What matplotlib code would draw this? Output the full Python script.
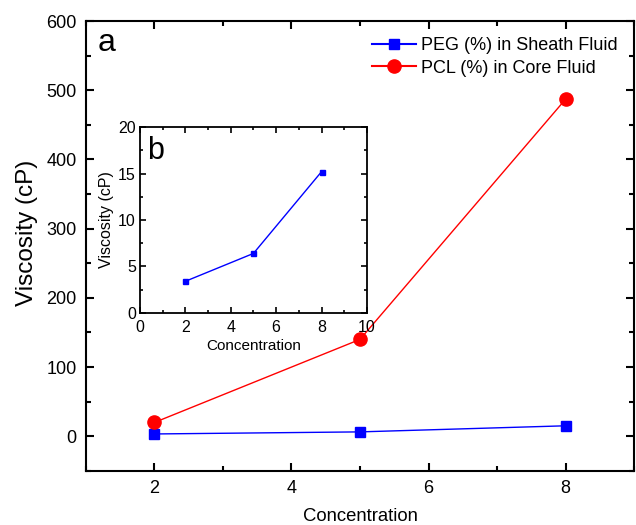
import matplotlib
matplotlib.use('Agg')
import matplotlib.pyplot as plt
from matplotlib.ticker import MultipleLocator

plt.rcParams['font.family'] = ['Liberation Sans', 'DejaVu Sans']

concentration = [2, 5, 8]
peg_viscosity = [3.4, 6.4, 15.2]
pcl_viscosity = [20, 140, 487]

fig = plt.figure(figsize=(6.36, 5.25), dpi=100)
ax = fig.add_axes([0.135, 0.103, 0.862, 0.857])

ax.plot(concentration, peg_viscosity, color='blue', marker='s', markersize=7.7,
        linewidth=1, label='PEG (%) in Sheath Fluid')
ax.plot(concentration, pcl_viscosity, color='red', marker='o', markersize=9.5,
        linewidth=1, label='PCL (%) in Core Fluid')

ax.set_xlim(1, 9)
ax.set_ylim(-50, 600)
ax.xaxis.set_major_locator(MultipleLocator(2))
ax.xaxis.set_minor_locator(MultipleLocator(1))
ax.yaxis.set_major_locator(MultipleLocator(100))
ax.yaxis.set_minor_locator(MultipleLocator(50))
ax.tick_params(which='both', direction='in', top=True, right=True, labelsize=13, width=1.5, pad=6.5)
ax.tick_params(which='major', length=6)
ax.tick_params(which='minor', length=3.5)
for s in ax.spines.values():
    s.set_linewidth(1.5)
ax.set_xlabel('Concentration', fontsize=13.3, labelpad=8)
ax.set_ylabel('Viscosity (cP)', fontsize=17.5)
ax.yaxis.set_label_coords(-0.088, 0.529)
ax.text(0.022, 0.985, 'a', transform=ax.transAxes, fontsize=23, va='top', ha='left')
leg = ax.legend(loc='upper right', frameon=False, fontsize=13, handlelength=2.4,
                borderaxespad=0.5, handletextpad=0.3, labelspacing=0.3)
for line in leg.get_lines():
    line.set_linewidth(1.5)

# inset
ins = fig.add_axes([0.220, 0.404, 0.357, 0.354])
ins.plot(concentration, peg_viscosity, color='blue', marker='s', markersize=3.6,
         linewidth=1)
ins.set_xlim(0, 10)
ins.set_ylim(0, 20)
ins.xaxis.set_major_locator(MultipleLocator(2))
ins.xaxis.set_minor_locator(MultipleLocator(1))
ins.yaxis.set_major_locator(MultipleLocator(5))
ins.yaxis.set_minor_locator(MultipleLocator(2.5))
ins.tick_params(which='both', direction='in', top=True, right=True, labelsize=11.5, width=1.2)
ins.tick_params(axis='x', pad=5)
ins.tick_params(axis='y', pad=3)
ins.tick_params(which='major', length=4)
ins.tick_params(which='minor', length=2.5)
for s in ins.spines.values():
    s.set_linewidth(1.3)
ins.set_xlabel('Concentration', fontsize=11, labelpad=3)
ins.set_ylabel('Viscosity (cP)', fontsize=11.5, labelpad=3)
ins.text(0.03, 0.95, 'b', transform=ins.transAxes, fontsize=22, va='top', ha='left')

fig.savefig('out.png', dpi=100)
